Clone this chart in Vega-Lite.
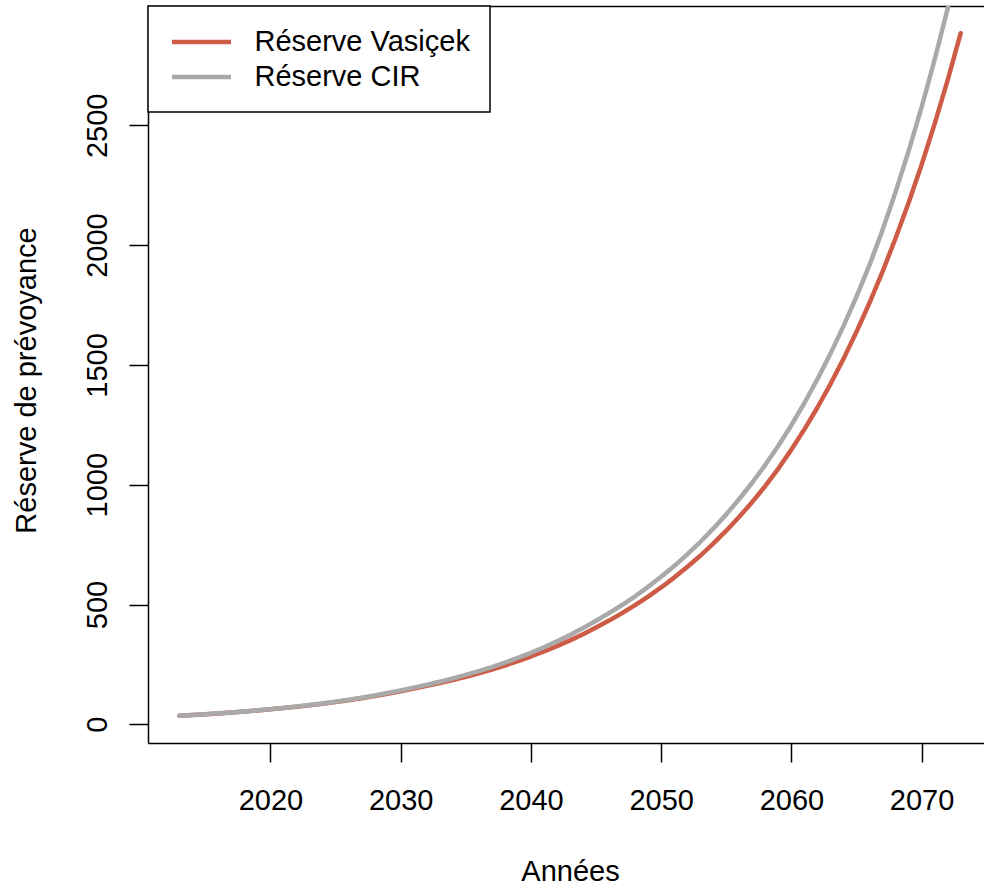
{
  "$schema": "https://vega.github.io/schema/vega-lite/v6.json",
  "width": 836,
  "height": 737,
  "autosize": {"type": "none"},
  "padding": {"left": 148, "top": 6, "right": 0, "bottom": 145},
  "background": "white",
  "config": {
    "view": {"stroke": null},
    "font": "Liberation Sans",
    "legend": {"strokeWidth": 1.5},
    "axis": {
      "domainColor": "black",
      "domainWidth": 1.5,
      "tickColor": "black",
      "tickWidth": 1.5,
      "tickSize": 19,
      "labelFont": "Liberation Sans",
      "labelFontSize": 29,
      "labelColor": "black",
      "titleFont": "Liberation Sans",
      "titleFontSize": 29,
      "titleFontWeight": "normal",
      "titleColor": "black",
      "grid": false,
      "labelFlush": false,
      "labelOverlap": false
    }
  },
  "data": {
    "values": [
      {"year": 2013, "value": 36.0, "series": "Réserve Vasiçek"},
      {"year": 2014, "value": 39.0, "series": "Réserve Vasiçek"},
      {"year": 2015, "value": 42.2, "series": "Réserve Vasiçek"},
      {"year": 2016, "value": 45.6, "series": "Réserve Vasiçek"},
      {"year": 2017, "value": 49.4, "series": "Réserve Vasiçek"},
      {"year": 2018, "value": 53.4, "series": "Réserve Vasiçek"},
      {"year": 2019, "value": 57.8, "series": "Réserve Vasiçek"},
      {"year": 2020, "value": 62.6, "series": "Réserve Vasiçek"},
      {"year": 2021, "value": 67.7, "series": "Réserve Vasiçek"},
      {"year": 2022, "value": 73.3, "series": "Réserve Vasiçek"},
      {"year": 2023, "value": 79.3, "series": "Réserve Vasiçek"},
      {"year": 2024, "value": 85.9, "series": "Réserve Vasiçek"},
      {"year": 2025, "value": 92.9, "series": "Réserve Vasiçek"},
      {"year": 2026, "value": 100.6, "series": "Réserve Vasiçek"},
      {"year": 2027, "value": 108.8, "series": "Réserve Vasiçek"},
      {"year": 2028, "value": 117.8, "series": "Réserve Vasiçek"},
      {"year": 2029, "value": 127.5, "series": "Réserve Vasiçek"},
      {"year": 2030, "value": 138.0, "series": "Réserve Vasiçek"},
      {"year": 2031, "value": 149.3, "series": "Réserve Vasiçek"},
      {"year": 2032, "value": 160.3, "series": "Réserve Vasiçek"},
      {"year": 2033, "value": 172.1, "series": "Réserve Vasiçek"},
      {"year": 2034, "value": 184.8, "series": "Réserve Vasiçek"},
      {"year": 2035, "value": 198.4, "series": "Réserve Vasiçek"},
      {"year": 2036, "value": 213.0, "series": "Réserve Vasiçek"},
      {"year": 2037, "value": 228.7, "series": "Réserve Vasiçek"},
      {"year": 2038, "value": 245.5, "series": "Réserve Vasiçek"},
      {"year": 2039, "value": 263.6, "series": "Réserve Vasiçek"},
      {"year": 2040, "value": 283.0, "series": "Réserve Vasiçek"},
      {"year": 2041, "value": 303.8, "series": "Réserve Vasiçek"},
      {"year": 2042, "value": 326.2, "series": "Réserve Vasiçek"},
      {"year": 2043, "value": 350.2, "series": "Réserve Vasiçek"},
      {"year": 2044, "value": 376.0, "series": "Réserve Vasiçek"},
      {"year": 2045, "value": 403.7, "series": "Réserve Vasiçek"},
      {"year": 2046, "value": 432.9, "series": "Réserve Vasiçek"},
      {"year": 2047, "value": 464.0, "series": "Réserve Vasiçek"},
      {"year": 2048, "value": 497.3, "series": "Réserve Vasiçek"},
      {"year": 2049, "value": 533.0, "series": "Réserve Vasiçek"},
      {"year": 2050, "value": 571.3, "series": "Réserve Vasiçek"},
      {"year": 2051, "value": 612.3, "series": "Réserve Vasiçek"},
      {"year": 2052, "value": 656.3, "series": "Réserve Vasiçek"},
      {"year": 2053, "value": 703.4, "series": "Réserve Vasiçek"},
      {"year": 2054, "value": 753.9, "series": "Réserve Vasiçek"},
      {"year": 2055, "value": 808.0, "series": "Réserve Vasiçek"},
      {"year": 2056, "value": 866.0, "series": "Réserve Vasiçek"},
      {"year": 2057, "value": 928.2, "series": "Réserve Vasiçek"},
      {"year": 2058, "value": 994.8, "series": "Réserve Vasiçek"},
      {"year": 2059, "value": 1067.4, "series": "Réserve Vasiçek"},
      {"year": 2060, "value": 1146.4, "series": "Réserve Vasiçek"},
      {"year": 2061, "value": 1231.2, "series": "Réserve Vasiçek"},
      {"year": 2062, "value": 1322.3, "series": "Réserve Vasiçek"},
      {"year": 2063, "value": 1420.2, "series": "Réserve Vasiçek"},
      {"year": 2064, "value": 1525.3, "series": "Réserve Vasiçek"},
      {"year": 2065, "value": 1638.2, "series": "Réserve Vasiçek"},
      {"year": 2066, "value": 1759.4, "series": "Réserve Vasiçek"},
      {"year": 2067, "value": 1889.6, "series": "Réserve Vasiçek"},
      {"year": 2068, "value": 2028.9, "series": "Réserve Vasiçek"},
      {"year": 2069, "value": 2176.8, "series": "Réserve Vasiçek"},
      {"year": 2070, "value": 2335.5, "series": "Réserve Vasiçek"},
      {"year": 2071, "value": 2505.8, "series": "Réserve Vasiçek"},
      {"year": 2072, "value": 2688.5, "series": "Réserve Vasiçek"},
      {"year": 2073, "value": 2884.5, "series": "Réserve Vasiçek"},
      {"year": 2013, "value": 36.0, "series": "Réserve CIR"},
      {"year": 2014, "value": 39.0, "series": "Réserve CIR"},
      {"year": 2015, "value": 42.3, "series": "Réserve CIR"},
      {"year": 2016, "value": 45.8, "series": "Réserve CIR"},
      {"year": 2017, "value": 49.7, "series": "Réserve CIR"},
      {"year": 2018, "value": 53.8, "series": "Réserve CIR"},
      {"year": 2019, "value": 58.3, "series": "Réserve CIR"},
      {"year": 2020, "value": 63.2, "series": "Réserve CIR"},
      {"year": 2021, "value": 68.5, "series": "Réserve CIR"},
      {"year": 2022, "value": 74.3, "series": "Réserve CIR"},
      {"year": 2023, "value": 80.5, "series": "Réserve CIR"},
      {"year": 2024, "value": 87.2, "series": "Réserve CIR"},
      {"year": 2025, "value": 94.5, "series": "Réserve CIR"},
      {"year": 2026, "value": 102.4, "series": "Réserve CIR"},
      {"year": 2027, "value": 111.0, "series": "Réserve CIR"},
      {"year": 2028, "value": 120.3, "series": "Réserve CIR"},
      {"year": 2029, "value": 130.4, "series": "Réserve CIR"},
      {"year": 2030, "value": 141.3, "series": "Réserve CIR"},
      {"year": 2031, "value": 153.2, "series": "Réserve CIR"},
      {"year": 2032, "value": 165.0, "series": "Réserve CIR"},
      {"year": 2033, "value": 177.7, "series": "Réserve CIR"},
      {"year": 2034, "value": 191.3, "series": "Réserve CIR"},
      {"year": 2035, "value": 206.1, "series": "Réserve CIR"},
      {"year": 2036, "value": 221.9, "series": "Réserve CIR"},
      {"year": 2037, "value": 239.0, "series": "Réserve CIR"},
      {"year": 2038, "value": 257.4, "series": "Réserve CIR"},
      {"year": 2039, "value": 277.2, "series": "Réserve CIR"},
      {"year": 2040, "value": 298.5, "series": "Réserve CIR"},
      {"year": 2041, "value": 321.4, "series": "Réserve CIR"},
      {"year": 2042, "value": 346.2, "series": "Réserve CIR"},
      {"year": 2043, "value": 372.8, "series": "Réserve CIR"},
      {"year": 2044, "value": 401.5, "series": "Réserve CIR"},
      {"year": 2045, "value": 432.3, "series": "Réserve CIR"},
      {"year": 2046, "value": 464.0, "series": "Réserve CIR"},
      {"year": 2047, "value": 497.9, "series": "Réserve CIR"},
      {"year": 2048, "value": 534.4, "series": "Réserve CIR"},
      {"year": 2049, "value": 573.5, "series": "Réserve CIR"},
      {"year": 2050, "value": 615.5, "series": "Réserve CIR"},
      {"year": 2051, "value": 660.5, "series": "Réserve CIR"},
      {"year": 2052, "value": 708.9, "series": "Réserve CIR"},
      {"year": 2053, "value": 760.8, "series": "Réserve CIR"},
      {"year": 2054, "value": 816.5, "series": "Réserve CIR"},
      {"year": 2055, "value": 876.2, "series": "Réserve CIR"},
      {"year": 2056, "value": 940.4, "series": "Réserve CIR"},
      {"year": 2057, "value": 1009.2, "series": "Réserve CIR"},
      {"year": 2058, "value": 1083.1, "series": "Réserve CIR"},
      {"year": 2059, "value": 1162.4, "series": "Réserve CIR"},
      {"year": 2060, "value": 1248.5, "series": "Réserve CIR"},
      {"year": 2061, "value": 1341.0, "series": "Réserve CIR"},
      {"year": 2062, "value": 1440.4, "series": "Réserve CIR"},
      {"year": 2063, "value": 1547.1, "series": "Réserve CIR"},
      {"year": 2064, "value": 1661.8, "series": "Réserve CIR"},
      {"year": 2065, "value": 1785.0, "series": "Réserve CIR"},
      {"year": 2066, "value": 1917.3, "series": "Réserve CIR"},
      {"year": 2067, "value": 2062.7, "series": "Réserve CIR"},
      {"year": 2068, "value": 2221.3, "series": "Réserve CIR"},
      {"year": 2069, "value": 2392.1, "series": "Réserve CIR"},
      {"year": 2070, "value": 2576.1, "series": "Réserve CIR"},
      {"year": 2071, "value": 2774.2, "series": "Réserve CIR"},
      {"year": 2072, "value": 2987.5, "series": "Réserve CIR"},
      {"year": 2073, "value": 3217.2, "series": "Réserve CIR"}
    ]
  },
  "encoding": {
    "y": {
      "field": "value",
      "type": "quantitative",
      "scale": {"domain": [-78, 2998], "nice": false, "zero": false},
      "axis": {
        "values": [0, 500, 1000, 1500, 2000, 2500],
        "format": "d",
        "labelAngle": 270,
        "labelAlign": "center",
        "labelBaseline": "alphabetic",
        "labelPadding": 23,
        "title": "Réserve de prévoyance",
        "titleAngle": 270,
        "titleAlign": "center",
        "titleBaseline": "alphabetic",
        "titleX": -113,
        "titleY": 374
      }
    },
    "color": {
      "field": "series",
      "type": "nominal",
      "scale": {
        "domain": ["Réserve Vasiçek", "Réserve CIR"],
        "range": ["#CD5B45", "#A9A9A9"]
      },
      "legend": {
        "orient": "none",
        "legendX": 0,
        "legendY": 0,
        "title": null,
        "symbolType": "M-2.145,0H2.145",
        "symbolSize": 756,
        "symbolStrokeWidth": 4.5,
        "symbolOffset": 17.5,
        "labelOffset": 37,
        "labelFont": "Liberation Sans",
        "labelFontSize": 29,
        "labelColor": "black",
        "labelLimit": 0,
        "padding": 20,
        "rowPadding": 4,
        "strokeColor": "black",
        "fillColor": "white"
      }
    }
  },
  "layer": [
    {
      "transform": [{"filter": "datum.series === 'Réserve Vasiçek'"}],
      "mark": {"type": "line", "strokeWidth": 4.5, "strokeCap": "round", "strokeJoin": "round", "clip": true},
      "encoding": {
        "x": {
          "field": "year",
          "type": "quantitative",
          "scale": {"domain": [2010.6, 2074.79], "nice": false, "zero": false},
          "axis": {
            "orient": "bottom",
            "values": [2020, 2030, 2040, 2050, 2060, 2070],
            "format": "d",
            "labelBaseline": "alphabetic",
            "labelPadding": 47,
            "title": "Années",
            "titleBaseline": "alphabetic",
            "titleAlign": "center",
            "titleX": 422,
            "titleY": 137
          }
        }
      }
    },
    {
      "transform": [{"filter": "datum.series === 'Réserve CIR'"}],
      "mark": {"type": "line", "strokeWidth": 4.5, "strokeCap": "round", "strokeJoin": "round", "clip": true},
      "encoding": {
        "x": {
          "field": "year",
          "type": "quantitative",
          "scale": {"domain": [2010.6, 2074.79], "nice": false, "zero": false},
          "axis": {
            "orient": "top",
            "labels": false,
            "ticks": false,
            "title": null,
            "domain": true
          }
        }
      }
    }
  ],
  "resolve": {"axis": {"x": "independent"}}
}
